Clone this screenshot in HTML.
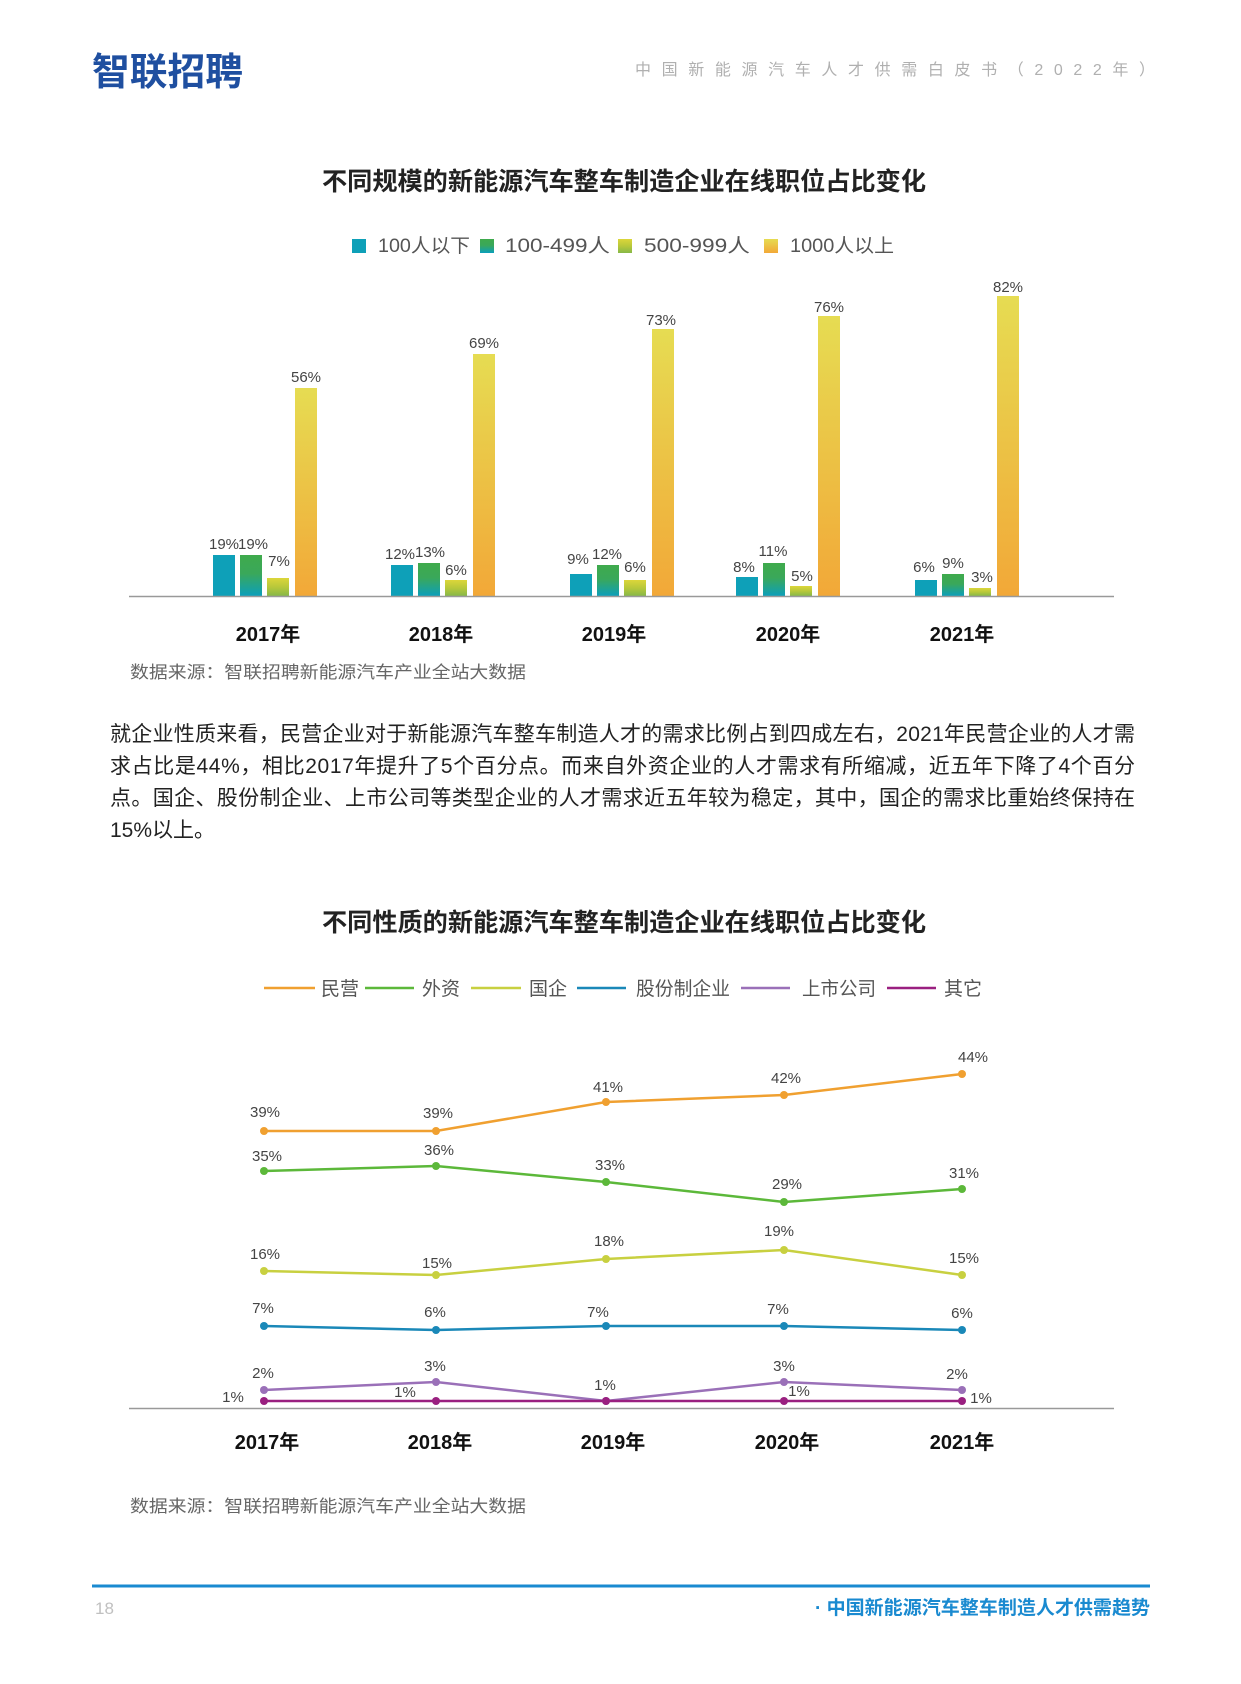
<!DOCTYPE html>
<html><head><meta charset="utf-8"><style>
html,body{margin:0;padding:0;background:#fff}
svg{display:block}
text{font-family:"Liberation Sans","Noto Sans CJK SC",sans-serif}
</style></head><body>
<svg width="1241" height="1684" viewBox="0 0 1241 1684" xmlns="http://www.w3.org/2000/svg">
<defs>
<linearGradient id="g2" x1="0" y1="0" x2="0" y2="1"><stop offset="0" stop-color="#3faa4c"/><stop offset="0.45" stop-color="#3aa85a"/><stop offset="1" stop-color="#0b9fbb"/></linearGradient>
<linearGradient id="g3" x1="0" y1="0" x2="0" y2="1"><stop offset="0" stop-color="#dcd63a"/><stop offset="0.5" stop-color="#b8c83a"/><stop offset="1" stop-color="#86b848"/></linearGradient>
<linearGradient id="g4" x1="0" y1="0" x2="0" y2="1"><stop offset="0" stop-color="#e6dc52"/><stop offset="1" stop-color="#f2a838"/></linearGradient>
</defs>
<!-- header -->
<text x="92" y="85" font-size="38" font-weight="bold" fill="#1f4fa0" textLength="151" lengthAdjust="spacingAndGlyphs">智联招聘</text>
<text x="635" y="75" font-size="16" fill="#b0b0b0" textLength="520" lengthAdjust="spacing">中国新能源汽车人才供需白皮书（2022年）</text>

<!-- chart 1 -->
<text x="322" y="190" font-size="25" font-weight="bold" fill="#222" textLength="604" lengthAdjust="spacingAndGlyphs">不同规模的新能源汽车整车制造企业在线职位占比变化</text>
<g font-size="19" fill="#555">
<rect x="352" y="239" width="14" height="14" fill="#0ea0b8"/><text x="378" y="252" textLength="92" lengthAdjust="spacingAndGlyphs">100人以下</text>
<rect x="480" y="239" width="14" height="14" fill="url(#g2)"/><text x="505" y="252" textLength="105" lengthAdjust="spacingAndGlyphs">100-499人</text>
<rect x="618" y="239" width="14" height="14" fill="url(#g3)"/><text x="644" y="252" textLength="106" lengthAdjust="spacingAndGlyphs">500-999人</text>
<rect x="764" y="239" width="14" height="14" fill="url(#g4)"/><text x="790" y="252" textLength="104" lengthAdjust="spacingAndGlyphs">1000人以上</text>
</g>
<g font-size="15" fill="#444" text-anchor="middle">
<!-- 2017 -->
<rect x="213" y="555" width="22" height="41" fill="#0ea0b8"/><text x="224" y="549">19%</text>
<rect x="240" y="555" width="22" height="41" fill="url(#g2)"/><text x="253" y="549">19%</text>
<rect x="267" y="578" width="22" height="18" fill="url(#g3)"/><text x="279" y="566">7%</text>
<rect x="295" y="388" width="22" height="208" fill="url(#g4)"/><text x="306" y="382">56%</text>
<!-- 2018 -->
<rect x="391" y="565" width="22" height="31" fill="#0ea0b8"/><text x="400" y="559">12%</text>
<rect x="418" y="563" width="22" height="33" fill="url(#g2)"/><text x="430" y="557">13%</text>
<rect x="445" y="580" width="22" height="16" fill="url(#g3)"/><text x="456" y="575">6%</text>
<rect x="473" y="354" width="22" height="242" fill="url(#g4)"/><text x="484" y="348">69%</text>
<!-- 2019 -->
<rect x="570" y="574" width="22" height="22" fill="#0ea0b8"/><text x="578" y="564">9%</text>
<rect x="597" y="565" width="22" height="31" fill="url(#g2)"/><text x="607" y="559">12%</text>
<rect x="624" y="580" width="22" height="16" fill="url(#g3)"/><text x="635" y="572">6%</text>
<rect x="652" y="329" width="22" height="267" fill="url(#g4)"/><text x="661" y="325">73%</text>
<!-- 2020 -->
<rect x="736" y="577" width="22" height="19" fill="#0ea0b8"/><text x="744" y="572">8%</text>
<rect x="763" y="563" width="22" height="33" fill="url(#g2)"/><text x="773" y="556">11%</text>
<rect x="790" y="586" width="22" height="10" fill="url(#g3)"/><text x="802" y="581">5%</text>
<rect x="818" y="316" width="22" height="280" fill="url(#g4)"/><text x="829" y="312">76%</text>
<!-- 2021 -->
<rect x="915" y="580" width="22" height="16" fill="#0ea0b8"/><text x="924" y="572">6%</text>
<rect x="942" y="574" width="22" height="22" fill="url(#g2)"/><text x="953" y="568">9%</text>
<rect x="969" y="588" width="22" height="8" fill="url(#g3)"/><text x="982" y="582">3%</text>
<rect x="997" y="296" width="22" height="300" fill="url(#g4)"/><text x="1008" y="292">82%</text>
</g>
<line x1="129" y1="596.5" x2="1114" y2="596.5" stroke="#999" stroke-width="1.5"/>
<g font-size="20" font-weight="bold" fill="#111" text-anchor="middle">
<text x="268" y="641">2017年</text><text x="441" y="641">2018年</text><text x="614" y="641">2019年</text><text x="788" y="641">2020年</text><text x="962" y="641">2021年</text>
</g>
<text x="130" y="678" font-size="17" fill="#666" textLength="396" lengthAdjust="spacingAndGlyphs">数据来源：智联招聘新能源汽车产业全站大数据</text>

<!-- paragraph -->
<g font-size="21" fill="#222">
<text x="110" y="741" textLength="1025" lengthAdjust="spacing">就企业性质来看，民营企业对于新能源汽车整车制造人才的需求比例占到四成左右，2021年民营企业的人才需</text>
<text x="110" y="773" textLength="1025" lengthAdjust="spacing">求占比是44%，相比2017年提升了5个百分点。而来自外资企业的人才需求有所缩减，近五年下降了4个百分</text>
<text x="110" y="805" textLength="1025" lengthAdjust="spacing">点。国企、股份制企业、上市公司等类型企业的人才需求近五年较为稳定，其中，国企的需求比重始终保持在</text>
<text x="110" y="837">15%以上。</text>
</g>

<!-- chart 2 -->
<text x="322" y="931" font-size="25" font-weight="bold" fill="#222" textLength="604" lengthAdjust="spacingAndGlyphs">不同性质的新能源汽车整车制造企业在线职位占比变化</text>
<g font-size="19" fill="#555" stroke-width="2.5">
<line x1="264" y1="988" x2="315" y2="988" stroke="#f0a030"/><text x="321" y="995" stroke="none">民营</text>
<line x1="365" y1="988" x2="414" y2="988" stroke="#5cb83a"/><text x="422" y="995" stroke="none">外资</text>
<line x1="471" y1="988" x2="521" y2="988" stroke="#c8d040"/><text x="529" y="995" stroke="none">国企</text>
<line x1="577" y1="988" x2="626" y2="988" stroke="#1a88b8"/><text x="636" y="995" stroke="none" textLength="94" lengthAdjust="spacingAndGlyphs">股份制企业</text>
<line x1="741" y1="988" x2="790" y2="988" stroke="#9a70b8"/><text x="802" y="995" stroke="none" textLength="74" lengthAdjust="spacingAndGlyphs">上市公司</text>
<line x1="887" y1="988" x2="936" y2="988" stroke="#9a2080"/><text x="944" y="995" stroke="none">其它</text>
</g>
<g transform="translate(0,-4)">
<g fill="none" stroke-width="2.5">
<polyline points="264,1135 436,1135 606,1106 784,1099 962,1078" stroke="#f0a030"/>
<polyline points="264,1175 436,1170 606,1186 784,1206 962,1193" stroke="#5cb83a"/>
<polyline points="264,1275 436,1279 606,1263 784,1254 962,1279" stroke="#c8d040"/>
<polyline points="264,1330 436,1334 606,1330 784,1330 962,1334" stroke="#1a88b8"/>
<polyline points="264,1394 436,1386 606,1405 784,1386 962,1394" stroke="#9a70b8"/>
<polyline points="264,1405 436,1405 606,1405 784,1405 962,1405" stroke="#9a2080"/>
</g>
<g fill="#f0a030"><circle cx="264" cy="1135" r="4"/><circle cx="436" cy="1135" r="4"/><circle cx="606" cy="1106" r="4"/><circle cx="784" cy="1099" r="4"/><circle cx="962" cy="1078" r="4"/></g>
<g fill="#5cb83a"><circle cx="264" cy="1175" r="4"/><circle cx="436" cy="1170" r="4"/><circle cx="606" cy="1186" r="4"/><circle cx="784" cy="1206" r="4"/><circle cx="962" cy="1193" r="4"/></g>
<g fill="#c8d040"><circle cx="264" cy="1275" r="4"/><circle cx="436" cy="1279" r="4"/><circle cx="606" cy="1263" r="4"/><circle cx="784" cy="1254" r="4"/><circle cx="962" cy="1279" r="4"/></g>
<g fill="#1a88b8"><circle cx="264" cy="1330" r="4"/><circle cx="436" cy="1334" r="4"/><circle cx="606" cy="1330" r="4"/><circle cx="784" cy="1330" r="4"/><circle cx="962" cy="1334" r="4"/></g>
<g fill="#9a70b8"><circle cx="264" cy="1394" r="4"/><circle cx="436" cy="1386" r="4"/><circle cx="606" cy="1405" r="4"/><circle cx="784" cy="1386" r="4"/><circle cx="962" cy="1394" r="4"/></g>
<g fill="#9a2080"><circle cx="264" cy="1405" r="4"/><circle cx="436" cy="1405" r="4"/><circle cx="606" cy="1405" r="4"/><circle cx="784" cy="1405" r="4"/><circle cx="962" cy="1405" r="4"/></g>
<g font-size="15" fill="#444" text-anchor="middle" dominant-baseline="middle">
<text x="265" y="1117">39%</text><text x="438" y="1118">39%</text><text x="608" y="1092">41%</text><text x="786" y="1083">42%</text><text x="973" y="1062">44%</text>
<text x="267" y="1161">35%</text><text x="439" y="1155">36%</text><text x="610" y="1170">33%</text><text x="787" y="1189">29%</text><text x="964" y="1178">31%</text>
<text x="265" y="1259">16%</text><text x="437" y="1268">15%</text><text x="609" y="1246">18%</text><text x="779" y="1236">19%</text><text x="964" y="1263">15%</text>
<text x="263" y="1313">7%</text><text x="435" y="1317">6%</text><text x="598" y="1317">7%</text><text x="778" y="1314">7%</text><text x="962" y="1318">6%</text>
<text x="263" y="1378">2%</text><text x="435" y="1371">3%</text><text x="605" y="1390">1%</text><text x="784" y="1371">3%</text><text x="957" y="1379">2%</text>
<text x="233" y="1402">1%</text><text x="405" y="1397">1%</text><text x="799" y="1396">1%</text><text x="981" y="1403">1%</text>
</g>
<line x1="129" y1="1412.5" x2="1114" y2="1412.5" stroke="#999" stroke-width="1.5"/>
</g>
<g font-size="20" font-weight="bold" fill="#111" text-anchor="middle">
<text x="267" y="1449">2017年</text><text x="440" y="1449">2018年</text><text x="613" y="1449">2019年</text><text x="787" y="1449">2020年</text><text x="962" y="1449">2021年</text>
</g>
<text x="130" y="1512" font-size="17" fill="#666" textLength="396" lengthAdjust="spacingAndGlyphs">数据来源：智联招聘新能源汽车产业全站大数据</text>

<!-- footer -->
<line x1="92" y1="1586" x2="1150" y2="1586" stroke="#1a8ad0" stroke-width="3"/>
<text x="95" y="1614" font-size="17" fill="#c0c0c0">18</text>
<text x="815" y="1614" font-size="19" font-weight="bold" fill="#1a8ad0" textLength="335" lengthAdjust="spacingAndGlyphs">· 中国新能源汽车整车制造人才供需趋势</text>
</svg>
</body></html>
